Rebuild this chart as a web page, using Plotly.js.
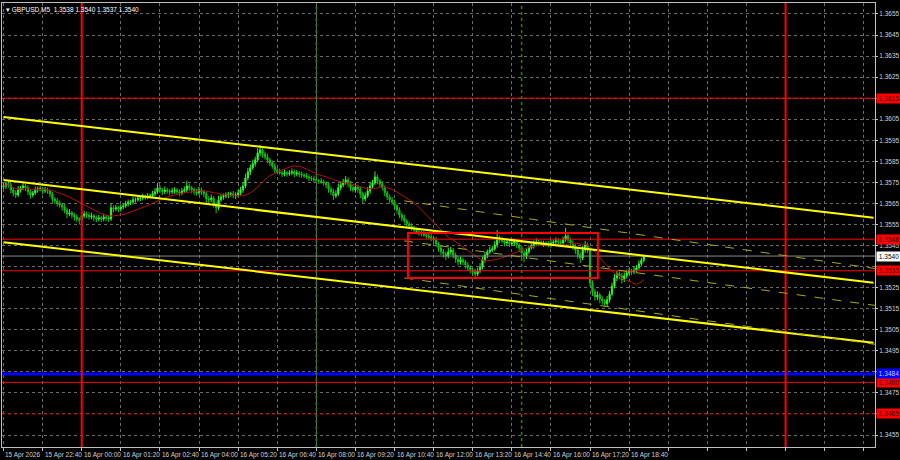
<!DOCTYPE html>
<html>
<head>
<meta charset="utf-8">
<script src="https://cdn.plot.ly/plotly-3.0.1.min.js"></script>
<style>html,body{margin:0;padding:0;background:#000;}#chart{width:900px;height:460px;}</style>
</head>
<body>
<div id="chart"></div>
<script>
// ---- DATA (GBPUSD, M5, first bar 15 Apr 21:20) ----
const symbolTitle = "GBPUSD,M5";
const headerOHLC = [1.3538, 1.3540, 1.3537, 1.3540];
const firstOpen = 1.35728;
const closes = [
1.35733,1.35743,1.35738,1.35714,1.35700,1.35690,1.35714,1.35724,1.35733,1.35724,1.35705,1.35690,1.35700,1.35714,1.35719,1.35719,1.35709,1.35714,1.35709,1.35695,
1.35671,1.35662,1.35652,1.35643,1.35633,1.35619,1.35600,1.35605,1.35595,1.35586,1.35576,1.35572,1.35591,1.35600,1.35595,1.35586,1.35591,1.35581,1.35576,1.35581,
1.35576,1.35586,1.35581,1.35576,1.35629,1.35624,1.35629,1.35624,1.35633,1.35638,1.35648,1.35657,1.35657,1.35667,1.35667,1.35676,1.35676,1.35681,1.35681,1.35686,
1.35686,1.35695,1.35705,1.35724,1.35714,1.35705,1.35714,1.35709,1.35705,1.35709,1.35714,1.35705,1.35700,1.35709,1.35714,1.35733,1.35724,1.35714,1.35705,1.35700,
1.35714,1.35705,1.35695,1.35671,1.35667,1.35676,1.35648,1.35629,1.35667,1.35681,1.35686,1.35690,1.35695,1.35695,1.35686,1.35690,1.35700,1.35714,1.35733,1.35771,
1.35800,1.35819,1.35838,1.35857,1.35890,1.35904,1.35885,1.35871,1.35857,1.35842,1.35828,1.35809,1.35800,1.35795,1.35790,1.35795,1.35790,1.35795,1.35800,1.35790,
1.35795,1.35790,1.35785,1.35781,1.35776,1.35771,1.35767,1.35762,1.35757,1.35757,1.35752,1.35747,1.35738,1.35719,1.35705,1.35686,1.35695,1.35724,1.35738,1.35752,
1.35762,1.35743,1.35724,1.35714,1.35728,1.35719,1.35695,1.35671,1.35686,1.35709,1.35733,1.35747,1.35776,1.35757,1.35743,1.35724,1.35700,1.35681,1.35667,1.35657,
1.35638,1.35619,1.35595,1.35581,1.35567,1.35553,1.35543,1.35534,1.35524,1.35515,1.35510,1.35505,1.35500,1.35496,1.35491,1.35486,1.35477,1.35458,1.35439,1.35420,
1.35410,1.35401,1.35420,1.35429,1.35405,1.35386,1.35372,1.35382,1.35372,1.35358,1.35344,1.35334,1.35325,1.35315,1.35329,1.35348,1.35382,1.35405,1.35420,1.35429,
1.35434,1.35453,1.35486,1.35477,1.35472,1.35462,1.35467,1.35458,1.35462,1.35467,1.35453,1.35439,1.35415,1.35401,1.35420,1.35439,1.35448,1.35458,1.35467,1.35462,
1.35458,1.35462,1.35458,1.35453,1.35462,1.35467,1.35472,1.35467,1.35462,1.35477,1.35496,1.35477,1.35462,1.35448,1.35429,1.35405,1.35391,1.35429,1.35453,1.35429,
1.35272,1.35230,1.35206,1.35215,1.35196,1.35187,1.35173,1.35192,1.35220,1.35258,1.35296,1.35315,1.35306,1.35287,1.35306,1.35320,1.35329,1.35325,1.35334,1.35344,1.35363,1.35380,1.35400
];
// upper / lower wick lengths in pips
const wickUp = [
1.4,1.0,1.6,0.9,1.1,1.3,1.8,1.0,1.5,0.9,1.2,1.3,0.9,1.6,1.1,1.3,0.9,1.5,1.1,0.9,
1.1,0.9,1.3,1.2,0.9,1.5,1.1,1.8,0.9,1.2,1.3,0.9,1.8,1.4,1.1,1.3,1.6,0.9,1.2,1.5,
1.1,1.6,0.9,1.2,2.0,1.1,1.5,0.9,1.3,1.1,1.5,1.1,0.9,1.6,1.1,1.3,0.9,1.5,1.1,1.3,
1.1,1.5,1.8,2.4,1.3,0.9,1.6,1.1,0.9,1.5,1.3,0.9,1.1,1.5,1.6,2.4,1.1,0.9,1.1,1.3,
1.6,1.1,0.9,1.1,1.3,1.6,0.9,1.1,2.0,1.5,1.1,1.3,0.9,1.1,1.5,1.3,1.6,1.5,1.8,2.0,
1.8,1.6,2.0,1.5,2.2,2.4,1.3,1.1,1.5,0.9,1.1,1.3,0.9,1.5,1.1,1.6,0.9,1.3,1.5,1.1,
1.3,0.9,1.1,0.9,1.3,1.1,0.9,1.5,1.1,0.9,1.3,1.1,0.9,1.3,1.1,1.5,1.8,2.0,1.6,1.5,
1.8,1.1,1.3,1.5,1.8,1.1,0.9,1.1,1.6,1.8,2.0,1.5,2.6,1.1,0.9,1.3,1.1,0.9,1.1,1.3,
1.1,0.9,1.3,1.1,1.5,0.9,1.1,1.3,0.9,1.1,1.5,0.9,1.3,1.1,0.9,1.5,1.1,1.3,0.9,1.1,
1.3,1.1,1.8,1.5,0.9,1.1,1.3,1.6,1.1,0.9,1.3,1.1,0.9,1.5,1.6,1.8,1.5,1.3,1.1,1.6,
1.5,1.8,3.8,1.1,1.3,0.9,1.5,1.1,1.3,1.6,1.1,0.9,1.1,1.3,1.5,1.1,1.3,1.6,1.8,1.1,
1.3,1.1,0.9,1.3,1.5,1.1,1.6,1.3,1.1,1.5,3.8,1.1,0.9,1.3,1.1,0.9,1.3,2.0,1.8,1.1,
1.1,1.3,1.5,1.8,1.1,1.3,0.9,1.8,1.5,1.6,1.8,1.5,1.1,1.3,1.6,1.5,1.3,1.1,1.5,1.3,1.6,1.2,0.0
];
const wickDown = [
1.1,1.5,1.3,1.6,1.8,1.5,0.9,1.3,1.1,1.6,1.5,1.8,1.1,0.9,1.3,1.1,1.5,0.9,1.3,1.6,
1.8,1.5,1.6,1.3,1.8,1.5,2.0,1.1,1.6,1.8,1.5,2.2,0.9,1.1,1.6,1.3,1.1,1.6,1.5,1.1,
1.5,1.1,1.6,1.3,0.9,1.5,1.1,1.6,1.3,1.1,0.9,1.3,1.5,1.1,1.3,0.9,1.5,1.1,1.3,1.1,
1.3,0.9,1.1,0.9,1.6,1.5,1.1,1.3,1.6,1.1,1.3,1.5,1.6,1.1,0.9,1.1,1.5,1.6,1.5,1.3,
1.1,1.5,1.6,2.0,1.5,1.1,1.8,2.6,1.1,0.9,1.3,1.1,1.5,1.3,1.1,1.5,0.9,1.1,1.3,1.1,
1.1,1.5,0.9,1.3,1.1,1.5,1.8,1.3,1.6,1.5,1.3,1.8,1.1,0.9,1.5,1.1,1.3,0.9,1.1,1.6,
1.1,1.5,1.3,1.1,0.9,1.5,1.1,1.3,1.1,1.5,0.9,1.3,1.6,1.8,1.5,2.0,1.1,0.9,1.3,1.1,
1.3,1.6,1.5,1.1,1.3,1.8,2.0,2.2,1.1,0.9,1.3,1.1,0.9,1.6,1.5,1.3,1.6,1.5,1.8,1.3,
1.6,1.8,1.5,1.6,1.3,1.5,1.1,1.3,1.5,1.1,1.3,1.1,0.9,1.3,1.1,1.5,1.8,1.6,1.8,1.5,
1.8,2.0,1.1,1.3,1.6,1.8,1.6,1.3,1.5,1.8,1.5,1.6,1.8,1.4,1.1,0.9,1.1,1.3,1.5,1.1,
1.1,0.9,1.3,1.5,1.1,1.6,1.3,1.5,1.1,1.3,1.6,2.0,2.6,3.0,1.5,1.1,0.9,1.3,1.1,1.5,
1.1,1.5,1.3,1.1,1.3,1.5,1.1,1.3,1.6,1.1,0.9,1.5,1.6,1.8,2.0,1.8,2.4,1.1,1.3,1.6,
1.8,2.0,1.8,1.5,2.0,1.8,1.5,1.1,1.3,0.9,1.1,1.5,1.6,1.8,1.1,1.3,0.9,1.5,1.1,1.3,0.9,1.1,1.0
];
const maPeriod = 20;

// time axis labels, one every 16 bars (80 minutes)
const timeLabels = ['15 Apr 2026','15 Apr 22:40','16 Apr 00:00','16 Apr 01:20','16 Apr 02:40','16 Apr 04:00','16 Apr 05:20','16 Apr 06:40','16 Apr 08:00','16 Apr 09:20','16 Apr 10:40','16 Apr 12:00','16 Apr 13:20','16 Apr 14:40','16 Apr 16:00','16 Apr 17:20','16 Apr 18:40'];
const barsPerLabel = 16;
const gridCount = 23;
const priceTicks = [1.3455,1.3465,1.3475,1.3485,1.3495,1.3505,1.3515,1.3525,1.3535,1.3545,1.3555,1.3565,1.3575,1.3585,1.3595,1.3605,1.3615,1.3625,1.3635,1.3645,1.3655];

// horizontal levels
const redLevels = [1.3615, 1.3548, 1.3533, 1.3480];
const dottedLevels = [1.3465];
const blueLevels = [1.3484];
// vertical markers (bar index): day separators and session lines
const dayLines = [32, 320];
const sessionLines = [128, 212];
// channel lines: [barA, priceA, barB, priceB]
const channelLines = [
  [0, 1.36060, 356, 1.35582],
  [0, 1.35761, 356, 1.35273],
  [0, 1.35466, 356, 1.34988]
];
const dashedLines = [
  [164, 1.35662, 357, 1.35340],
  [164, 1.35472, 357, 1.35165],
  [164, 1.35296, 357, 1.34980]
];
// range rectangle [bar0, bar1, priceLow, priceHigh]
const rangeBox = [165.5, 243.2, 1.35296, 1.35510];
const xRange = [-0.61, 356.6];
const yRange = [1.34493, 1.36602];

// ---- build ----
const pip = 0.0001;
const n = closes.length;
const xs = closes.map((_, i) => i);
const opens = [firstOpen].concat(closes.slice(0, n - 1));
const highs = closes.map((c, i) => Math.max(c, opens[i]) + wickUp[i] * pip);
const lows = closes.map((c, i) => Math.min(c, opens[i]) - wickDown[i] * pip);
const ma = closes.map((_, i) => {
  const s = Math.max(0, i - maPeriod + 1);
  const w = closes.slice(s, i + 1);
  return w.reduce((a, b) => a + b, 0) / w.length;
});
const lastPrice = closes[n - 1];

const candles = {
  type: 'candlestick', x: xs, open: opens, high: highs, low: lows, close: closes,
  increasing: {line: {color: '#2cf02c', width: 1}, fillcolor: '#8cff8c'},
  decreasing: {line: {color: '#14c014', width: 1}, fillcolor: '#0c960c'},
  whiskerwidth: 0, hoverinfo: 'skip', showlegend: false
};
const maTrace = {
  type: 'scatter', mode: 'lines', x: xs, y: ma,
  line: {color: '#b01010', width: 1}, hoverinfo: 'skip', showlegend: false
};

const shapes = [];
const annotations = [];
const gridIdx = [];
for (let k = 0; k < gridCount; k++) gridIdx.push(k * barsPerLabel);

redLevels.forEach(p => shapes.push({type: 'line', xref: 'paper', x0: 0, x1: 1, yref: 'y', y0: p, y1: p, line: {color: '#ff0000', width: 1}}));
dottedLevels.forEach(p => shapes.push({type: 'line', xref: 'paper', x0: 0, x1: 1, yref: 'y', y0: p, y1: p, line: {color: '#c00000', width: 1, dash: 'dot'}}));
blueLevels.forEach(p => shapes.push({type: 'line', xref: 'paper', x0: 0, x1: 1, yref: 'y', y0: p, y1: p, line: {color: '#0000ff', width: 3}}));
shapes.push({type: 'line', xref: 'paper', x0: 0, x1: 1, yref: 'y', y0: lastPrice, y1: lastPrice, line: {color: '#8a8a8a', width: 1}});
dayLines.forEach(b => shapes.push({type: 'line', xref: 'x', x0: b, x1: b, yref: 'paper', y0: 0, y1: 1, line: {color: '#ff0000', width: 2}}));
sessionLines.forEach(b => shapes.push({type: 'line', xref: 'x', x0: b, x1: b, yref: 'paper', y0: 0, y1: 1, line: {color: '#2f7a00', width: 1.6, dash: 'dot'}}));
channelLines.forEach(l => shapes.push({type: 'line', xref: 'x', yref: 'y', x0: l[0], y0: l[1], x1: l[2], y1: l[3], line: {color: '#ffff00', width: 2}}));
dashedLines.forEach(l => shapes.push({type: 'line', xref: 'x', yref: 'y', x0: l[0], y0: l[1], x1: l[2], y1: l[3], line: {color: '#a8a818', width: 1, dash: 'dash'}}));
shapes.push({type: 'rect', xref: 'x', yref: 'y', x0: rangeBox[0], x1: rangeBox[1], y0: rangeBox[2], y1: rangeBox[3], line: {color: '#ff0000', width: 2}, fillcolor: 'rgba(0,0,0,0)'});

const axFont = {family: 'Liberation Sans, Arial, sans-serif', size: 6.5, color: '#d0d0d0'};
timeLabels.forEach((t, k) => annotations.push({
  text: t, xref: 'x', x: k * barsPerLabel, yref: 'paper', y: 0, xanchor: 'left', yanchor: 'top',
  yshift: -2, showarrow: false, font: axFont
}));
const tagLevels = [];
function priceTag(p, bg, fg) {
  tagLevels.push(p);
  annotations.push({text: p.toFixed(4), xref: 'paper', x: 1, xanchor: 'left', xshift: 1, yref: 'y', y: p, yanchor: 'middle',
    showarrow: false, bgcolor: bg, borderpad: 1, width: 22, font: {family: axFont.family, size: 6.5, color: fg}});
}
redLevels.forEach(p => priceTag(p, '#ff0000', '#300000'));
dottedLevels.forEach(p => priceTag(p, '#ff0000', '#300000'));
blueLevels.forEach(p => priceTag(p, '#0000ff', '#c8d0ff'));
priceTag(lastPrice, '#ffffff', '#000000');
annotations.push({
  text: '\u25BE ' + symbolTitle + '  ' + headerOHLC.map(v => v.toFixed(4)).join(' '),
  xref: 'paper', x: 0, xanchor: 'left', xshift: 2, yref: 'paper', y: 1, yanchor: 'top', yshift: -1,
  showarrow: false, font: {family: axFont.family, size: 6.5, color: '#ffffff'}
});
// tick labels that sit under a price tag are covered in the terminal
const tickText = priceTicks.map(v => tagLevels.some(t => Math.abs(t - v) < 0.00025) ? '' : v.toFixed(4));

const layout = {
  width: 900, height: 460,
  margin: {l: 2, r: 25, t: 3, b: 13, pad: 0},
  paper_bgcolor: '#000000', plot_bgcolor: '#000000',
  showlegend: false, hovermode: false,
  xaxis: {
    range: xRange, tickmode: 'array', tickvals: gridIdx, showticklabels: false,
    ticks: 'outside', ticklen: 3, tickcolor: '#c0c0c0',
    showgrid: true, gridcolor: '#6a6a6a', griddash: 'dot', gridwidth: 1,
    showline: true, linecolor: '#c0c0c0', linewidth: 1, mirror: true, zeroline: false,
    rangeslider: {visible: false}, fixedrange: true
  },
  yaxis: {
    side: 'right', range: yRange, tickmode: 'array', tickvals: priceTicks,
    ticktext: tickText, tickfont: axFont,
    ticks: 'outside', ticklen: 2, tickcolor: '#c0c0c0',
    showgrid: true, gridcolor: '#6a6a6a', griddash: 'dot', gridwidth: 1,
    showline: true, linecolor: '#c0c0c0', linewidth: 1, mirror: true, zeroline: false, fixedrange: true
  },
  shapes: shapes, annotations: annotations
};
Plotly.newPlot('chart', [candles, maTrace], layout, {displayModeBar: false, staticPlot: true});
</script>
</body>
</html>
